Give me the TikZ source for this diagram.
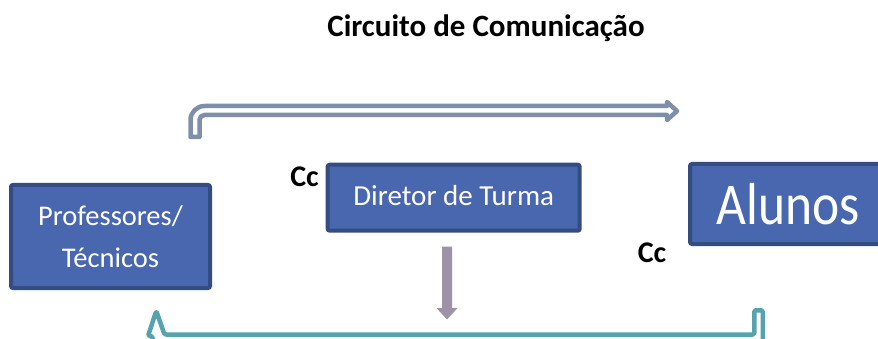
\documentclass[tikz,border=0pt]{standalone}
\usepackage{fontspec}
\setmainfont{Carlito}
\begin{document}
\begin{tikzpicture}[x=1pt,y=-1pt,
  box/.style={draw=boxline, fill=boxfill, line width=4pt, rounded corners=2pt,
    text=white, inner sep=0pt, align=center},
  cclabel/.style={anchor=base, inner sep=0pt, font=\bfseries\fontsize{30}{36}\selectfont},
  toparrow/.style={draw=topblue, fill=white, line width=4.5pt, line join=round},
  botarrow/.style={draw=teal1, fill=white, line width=4.5pt, line join=round},
  downarrow/.style={fill=mauve, draw=none}]
\definecolor{boxfill}{RGB}{72,103,174}
\definecolor{boxline}{RGB}{53,76,128}
\definecolor{topblue}{RGB}{127,143,169}
\definecolor{teal1}{RGB}{86,163,174}
\definecolor{mauve}{RGB}{158,146,166}
\useasboundingbox (0,0) rectangle (878,339);
\clip (0,0) rectangle (878,339);

% title
\node[anchor=base, inner sep=0pt, font=\bfseries\fontsize{31}{37}\selectfont] (title) at (486,37) {Circuito de Comunicação};

% boxes
\node[box, minimum width=199pt, minimum height=103pt, font=\fontsize{28.5}{41.7}\selectfont] (prof) at (110.5,236.5) {Professores/\\Técnicos};
\node[box, minimum width=252pt, minimum height=66pt, text height=15pt, text depth=0pt, font=\fontsize{29}{35}\selectfont] (dir) at (453.7,197.7) {Diretor de Turma};
\node[box, minimum width=197pt, minimum height=80pt, text height=42pt, text depth=0pt, font=\fontsize{51.5}{60}\selectfont] (alunos) at (788.5,204) {\scalebox{1}[1.15]{Alunos}};

% Cc labels
\node[cclabel] (cc1) at (304.5,187) {Cc};
\node[cclabel] (cc2) at (652,262) {Cc};

% top bent arrow (outlined)
\draw[toparrow] (190.5,137) -- (190.5,120) .. controls (190.5,112.27) and (196.77,106) .. (204.5,106)
  -- (667,106) -- (667,102) -- (677,111) -- (667,120) -- (667,115) -- (204.5,115)
  .. controls (201.74,115) and (199.5,117.24) .. (199.5,120) -- (199.5,137) -- cycle;

% bottom return arrow (outlined, cut by the lower edge)
\draw[botarrow, rounded corners=1.5pt] (754.25,334.5) -- (754.25,310.25) -- (762.75,310.25) -- (762.75,345)
  -- (152.5,345) -- (152.5,336) -- (148,336) -- (156.25,311) -- (164.5,334.5) -- cycle;

% gray down arrow
\fill[downarrow] (442,246.7) -- (452,246.7) -- (452,308) -- (457.5,308) -- (447,319.5)
  -- (436.5,308) -- (442,308) -- cycle;
\end{tikzpicture}
\end{document}
